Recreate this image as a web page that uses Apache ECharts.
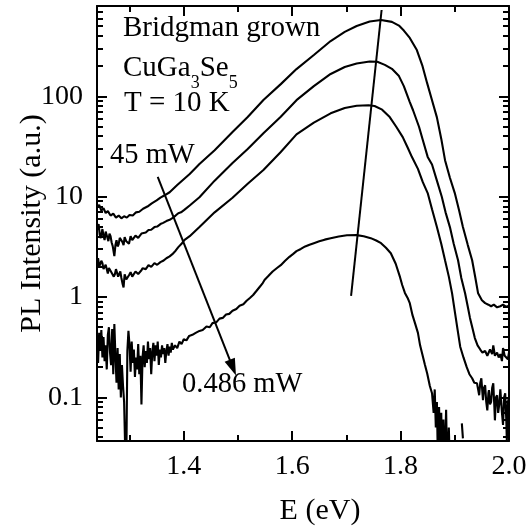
<!DOCTYPE html>
<html><head><meta charset="utf-8">
<script src="https://cdn.jsdelivr.net/npm/echarts@6/dist/echarts.min.js"></script>
<style>html,body{margin:0;padding:0;background:#fff}#c{width:529px;height:529px}</style>
</head><body><div id="c"></div>
<script>
const FONT = '"Liberation Serif","Times New Roman",serif';
const xMin = 1.24, xMax = 2.0;
const yMin = 0.0367, yMax = 800;
const xTickLabels = ['1.4', '1.6', '1.8', '2.0'];
const yTickLabels = ['0.1', '1', '10', '100'];

// 45 mW
const eA = [1.240,1.244,1.248,1.252,1.256,1.260,1.265,1.270,1.275,1.280,1.285,1.290,1.295,1.300,1.306,1.312,1.318,1.325,1.333,1.341,1.350,1.357,1.364,1.374,1.388,1.411,1.429,1.457,1.490,1.518,1.547,1.579,1.608,1.640,1.671,1.697,1.719,1.743,1.764,1.784,1.797,1.806,1.817,1.830,1.840,1.849,1.858,1.867,1.875,1.882,1.891,1.900,1.908,1.915,1.924,1.932,1.938,1.943,1.950,1.956,1.962,1.967,1.972,1.978,1.984,1.989,1.995,2.000];
const iA = [7.9,8.3,7.3,7.7,6.9,7.2,6.5,6.8,6.2,6.5,6.1,6.4,6.2,6.6,6.5,7.0,7.1,7.6,8.0,8.6,9.2,9.8,10.3,11.1,13.1,16.9,21.2,29.2,44.2,62.4,92.3,133,188,260,358,441,506,561,580,556,510,455,384,291,205,136,92,62,38,23.2,15.5,10.9,7.3,4.99,3.3,2.33,1.55,1.09,0.93,0.87,0.84,0.81,0.84,0.79,0.81,0.84,0.80,0.82];

// second curve
const eB = [1.240,1.243,1.245,1.247,1.250,1.252,1.254,1.256,1.258,1.261,1.263,1.265,1.267,1.269,1.272,1.274,1.276,1.278,1.280,1.282,1.284,1.287,1.289,1.291,1.294,1.296,1.299,1.302,1.305,1.308,1.311,1.313,1.316,1.319,1.322,1.324,1.330,1.335,1.340,1.346,1.351,1.357,1.362,1.368,1.374,1.379,1.385,1.390,1.395,1.401,1.411,1.429,1.457,1.490,1.518,1.547,1.579,1.608,1.640,1.671,1.697,1.719,1.743,1.757,1.771,1.784,1.797,1.806,1.817,1.823,1.834,1.841,1.850,1.858,1.867,1.876,1.883,1.891,1.898,1.906,1.912,1.919,1.924,1.928,1.933,1.937,1.942,1.947,1.951,1.956,1.960,1.965,1.969,1.971,1.974,1.978,1.981,1.984,1.987,1.989,1.992,1.995,1.998,2.000];
const iB = [4.7,5.35,4.2,3.87,4.77,4.1,3.70,4.5,4.35,3.61,4.3,4.05,3.5,3.22,2.56,3.3,3.70,3.2,3.37,3.9,3.87,3.53,3.3,3.96,3.6,3.70,3.4,4.05,3.7,3.87,4.1,4.25,3.9,4.05,4.3,4.45,4.4,4.66,4.7,4.99,5.05,5.35,5.5,5.73,5.9,6.13,6.5,6.87,7.0,7.4,8.2,9.9,14.5,21.7,30,43,63,92,127,168,197,214,224,222,207,189,160,127,88,73,50,36.8,25,21,14.5,10.0,7.0,4.99,3.4,2.33,1.55,1.09,0.80,0.62,0.48,0.39,0.33,0.30,0.28,0.29,0.26,0.30,0.27,0.33,0.26,0.28,0.25,0.27,0.23,0.31,0.26,0.265,0.24,0.28];

// third curve
const eC = [1.240,1.242,1.244,1.246,1.248,1.250,1.252,1.254,1.256,1.258,1.260,1.262,1.265,1.267,1.269,1.271,1.273,1.275,1.277,1.279,1.281,1.283,1.285,1.287,1.289,1.291,1.294,1.296,1.299,1.302,1.305,1.308,1.311,1.313,1.316,1.319,1.322,1.324,1.330,1.335,1.340,1.346,1.351,1.357,1.362,1.368,1.374,1.379,1.385,1.390,1.396,1.401,1.411,1.429,1.457,1.490,1.518,1.547,1.579,1.608,1.640,1.671,1.697,1.719,1.741,1.752,1.766,1.780,1.792,1.804,1.813,1.821,1.832,1.841,1.850,1.858,1.867,1.875,1.882,1.889,1.895,1.900,1.905,1.910,1.916,1.922,1.927,1.932,1.936,1.941,1.943,1.945,1.947,1.949,1.951,1.952,1.954,1.956,1.958,1.960,1.962,1.963,1.965,1.967,1.969,1.971,1.973,1.974,1.976,1.978,1.980,1.982,1.984,1.985,1.987,1.989,1.991,1.993,1.995,1.996,1.998,2.000];
const iC = [2.23,2.44,2.0,1.94,2.3,2.18,1.9,1.85,2.1,2.03,1.72,1.95,1.94,1.75,1.81,1.6,1.69,1.9,1.85,1.6,1.65,1.8,1.55,1.37,1.25,1.69,1.5,1.54,1.65,1.77,1.6,1.65,1.8,1.85,1.7,1.77,1.85,1.94,1.9,2.08,2.0,2.18,2.1,2.23,2.3,2.44,2.55,2.68,2.9,3.15,3.4,3.70,4.05,5.0,7.0,9.8,13.5,18.5,28,42,55,68,77,81,82,80.4,74,62.4,50,39.4,31,24.9,19,14,10.9,7.5,4.99,3.4,2.33,1.6,1.09,0.72,0.48,0.32,0.25,0.2,0.17,0.155,0.14,0.138,0.12,0.105,0.14,0.155,0.11,0.094,0.125,0.132,0.09,0.074,0.11,0.118,0.085,0.09,0.125,0.138,0.08,0.059,0.1,0.105,0.07,0.085,0.12,0.123,0.07,0.053,0.1,0.11,0.06,0.037,0.09,0.1];

// 0.486 mW
const eD = [1.240,1.242,1.244,1.246,1.248,1.250,1.252,1.254,1.256,1.258,1.260,1.262,1.264,1.266,1.268,1.270,1.272,1.274,1.276,1.278,1.280,1.282,1.284,1.286,1.288,1.290,1.292,1.294,1.296,1.298,1.300,1.302,1.304,1.306,1.308,1.310,1.312,1.314,1.316,1.318,1.320,1.322,1.324,1.326,1.328,1.330,1.332,1.334,1.336,1.338,1.340,1.342,1.344,1.346,1.348,1.350,1.352,1.354,1.356,1.358,1.360,1.362,1.364,1.366,1.368,1.370,1.372,1.374,1.376,1.378,1.380,1.384,1.388,1.392,1.396,1.400,1.405,1.410,1.416,1.422,1.429,1.435,1.442,1.448,1.453,1.460,1.466,1.472,1.478,1.484,1.490,1.497,1.503,1.510,1.516,1.522,1.528,1.534,1.540,1.545,1.549,1.556,1.564,1.572,1.579,1.587,1.595,1.602,1.608,1.616,1.624,1.632,1.640,1.650,1.660,1.671,1.686,1.701,1.719,1.732,1.745,1.755,1.764,1.773,1.782,1.791,1.799,1.803,1.808,1.813,1.817,1.822,1.827,1.832,1.836,1.840,1.845,1.849,1.854,1.858,1.861,1.863,1.865,1.867,1.869,1.871,1.873,1.875,1.877,1.879,1.881,1.884,1.886,1.889,1.891,1.900,1.913,1.915,1.917];
const iD = [0.37,0.22,0.44,0.30,0.47,0.25,0.40,0.23,0.33,0.19,0.42,0.50,0.28,0.21,0.48,0.17,0.54,0.26,0.14,0.31,0.12,0.27,0.10,0.21,0.13,0.09,0.03,0.02,0.29,0.46,0.33,0.18,0.36,0.22,0.30,0.16,0.25,0.19,0.34,0.17,0.26,0.085,0.25,0.33,0.20,0.29,0.22,0.36,0.24,0.31,0.17,0.28,0.35,0.23,0.33,0.26,0.36,0.21,0.30,0.25,0.33,0.27,0.31,0.22,0.29,0.34,0.26,0.32,0.28,0.35,0.30,0.33,0.31,0.36,0.34,0.38,0.37,0.41,0.42,0.44,0.46,0.47,0.51,0.50,0.55,0.56,0.61,0.62,0.67,0.68,0.73,0.76,0.82,0.85,0.92,0.98,1.05,1.15,1.26,1.36,1.48,1.62,1.80,1.95,2.08,2.30,2.52,2.70,2.87,3.02,3.20,3.33,3.45,3.60,3.74,3.87,4.02,4.13,4.15,4.05,3.87,3.67,3.45,3.10,2.74,2.15,1.58,1.32,1.10,0.98,0.87,0.66,0.54,0.44,0.33,0.27,0.21,0.174,0.13,0.11,0.07,0.12,0.05,0.09,0.02,0.08,0.03,0.07,0.02,0.06,0.02,0.075,0.02,0.05,0.02,null,0.055,0.039,null];

// annotation lines (data coordinates)
const arrowE = [1.352, 1.4906];
const arrowI = [15.8, 0.198];
const peakLineE = [1.7087, 1.765];
const peakLineI = [1.03, 730];

const chart = echarts.init(document.getElementById('c'), null, {renderer: 'canvas'});
const mk = (e, i) => e.map((x, k) => [x, i[k] === null ? '-' : i[k]]);
const lineStyle = {color: '#000', width: 2.1};
const series = [[eA, iA], [eB, iB], [eC, iC], [eD, iD]].map(([e, i]) => ({
  type: 'line', data: mk(e, i), showSymbol: false, symbol: 'none',
  lineStyle: lineStyle, clip: true, animation: false, silent: true, connectNulls: false
}));
series[0].markLine = {
  silent: true, animation: false, label: {show: false},
  lineStyle: {color: '#000', width: 2, type: 'solid'},
  symbol: ['none', 'none'],
  data: [
    [{coord: [arrowE[0], arrowI[0]], symbol: 'none'},
     {coord: [arrowE[1], arrowI[1]], symbol: 'triangle', symbolSize: [11, 17]}],
    [{coord: [peakLineE[0], peakLineI[0]], symbol: 'none'},
     {coord: [peakLineE[1], peakLineI[1]], symbol: 'none'}]
  ]
};

const axLine = {show: true, lineStyle: {color: '#000', width: 2}};
const tick = {show: true, inside: true, length: 10, lineStyle: {color: '#000', width: 2}};
const minor = {show: true, splitNumber: 2, length: 6, lineStyle: {color: '#000', width: 2}};
const xFmt = v => { const s = (+v).toFixed(1); return xTickLabels.includes(s) && Math.abs(v - parseFloat(s)) < 1e-6 ? s : ''; };
const yFmt = v => { const s = String(+(+v).toPrecision(6)); return yTickLabels.includes(s) ? s : ''; };

chart.setOption({
  animation: false,
  backgroundColor: '#fff',
  grid: {left: 97, right: 20, top: 6, bottom: 88, containLabel: false, outerBoundsMode: 'none'},
  xAxis: [
    {type: 'value', min: xMin, max: xMax, splitNumber: 4, position: 'bottom',
     axisLine: axLine, axisTick: tick, minorTick: minor, splitLine: {show: false},
     axisLabel: {formatter: xFmt, color: '#000', fontFamily: FONT, fontSize: 28, margin: 12, showMinLabel: false},
     name: 'E (eV)', nameLocation: 'middle', nameGap: 55,
     nameTextStyle: {fontFamily: FONT, fontSize: 30, color: '#000', padding: [0, 0, 0, 34]}},
    {type: 'value', min: xMin, max: xMax, splitNumber: 4, position: 'top',
     axisLine: axLine, axisTick: tick, minorTick: minor, splitLine: {show: false},
     axisLabel: {show: false}}
  ],
  yAxis: [
    {type: 'log', logBase: 10, min: yMin, max: yMax, position: 'left',
     axisLine: axLine, axisTick: tick, splitLine: {show: false},
     axisLabel: {formatter: yFmt, color: '#000', fontFamily: FONT, fontSize: 28, margin: 14},
     name: 'PL Intensity (a.u.)', nameLocation: 'middle', nameGap: 50, nameMoveOverlap: false,
     nameTextStyle: {fontFamily: FONT, fontSize: 30, color: '#000'}},
    {type: 'log', logBase: 10, min: yMin, max: yMax, position: 'right',
     axisLine: axLine, axisTick: tick, splitLine: {show: false}, axisLabel: {show: false}}
  ],
  series: series
});

// minor ticks of the log axes (2..9 per decade) and text annotations
const g = [];
const xl = chart.convertToPixel({xAxisIndex: 0}, xMin);
const xr = chart.convertToPixel({xAxisIndex: 0}, xMax);
for (let k = -2; k <= 2; k++) {
  for (let m = 2; m <= 9; m++) {
    const v = m * Math.pow(10, k);
    if (v <= yMin || v >= yMax) continue;
    const py = Math.round(chart.convertToPixel({yAxisIndex: 0}, v));
    g.push({type: 'line', silent: true, shape: {x1: xl, y1: py, x2: xl + 6, y2: py}, style: {stroke: '#000', lineWidth: 2}});
    g.push({type: 'line', silent: true, shape: {x1: xr, y1: py, x2: xr - 6, y2: py}, style: {stroke: '#000', lineWidth: 2}});
  }
}
const tf = '29px ' + FONT;
const tf2 = '28.5px ' + FONT;
g.push({type: 'text', x: 123, y: 28.5, style: {text: 'Bridgman grown', font: tf, fill: '#000', align: 'left', verticalAlign: 'middle'}});
g.push({type: 'text', x: 123, y: 54, style: {
  text: '{a|CuGa}{s|3}{a|Se}{s|5}', fill: '#000', align: 'left', verticalAlign: 'top',
  rich: {
    a: {fontFamily: FONT, fontSize: 29, lineHeight: 29, verticalAlign: 'top', fill: '#000'},
    s: {fontFamily: FONT, fontSize: 18, lineHeight: 18, padding: [20, 0, 0, 0], verticalAlign: 'top', fill: '#000'}
  }}});
g.push({type: 'text', x: 124, y: 103.5, style: {text: 'T = 10 K', font: tf, fill: '#000', align: 'left', verticalAlign: 'middle'}});
g.push({type: 'text', x: 110, y: 155.5, style: {text: '45 mW', font: tf2, fill: '#000', align: 'left', verticalAlign: 'middle'}});
g.push({type: 'text', x: 182, y: 384.5, style: {text: '0.486 mW', font: tf2, fill: '#000', align: 'left', verticalAlign: 'middle'}});
chart.setOption({graphic: g});
</script>
</body></html>
